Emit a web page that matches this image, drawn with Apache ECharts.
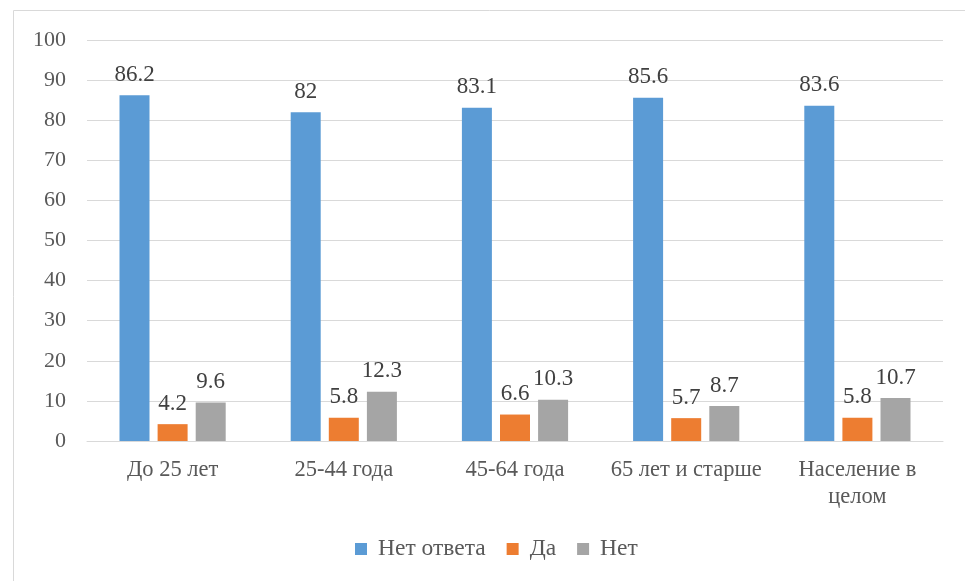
<!DOCTYPE html>
<html><head><meta charset="utf-8">
<script src="https://cdn.jsdelivr.net/npm/echarts@6/dist/echarts.min.js"></script>
<style>html,body{margin:0;padding:0;background:#fff}#c{width:965px;height:581px}</style>
</head><body><div id="c"></div>
<script>
const categories = ['До 25 лет', '25-44 года', '45-64 года', '65 лет и старше', 'Население в\nцелом'];
const seriesNames = ['Нет ответа', 'Да', 'Нет'];
const noAnswer = [86.2, 82, 83.1, 85.6, 83.6];
const yes = [4.2, 5.8, 6.6, 5.7, 5.8];
const no = [9.6, 12.3, 10.3, 8.7, 10.7];
const yTicks = [0, 10, 20, 30, 40, 50, 60, 70, 80, 90, 100];

const colors = ['#5b9bd5', '#ed7d31', '#a5a5a5'];
const font = 'Liberation Serif';
const chart = echarts.init(document.getElementById('c'));
const mk = (name, data, i) => ({
  name, type: 'bar', data, barWidth: 30, barGap: '27%',
  itemStyle: { color: colors[i] },
  label: { show: true, position: 'top', distance: 9, color: '#404040', fontFamily: font, fontSize: 23 }
});
chart.setOption({
  animation: false,
  textStyle: { fontFamily: font },
  graphic: [{ type: 'rect', shape: { x: 13.5, y: 10.5, width: 1000, height: 600 }, style: { fill: 'none', stroke: '#d9d9d9', lineWidth: 1 }, z: -1 }],
  grid: { left: 87, right: 22, top: 40, bottom: 140, containLabel: false },
  xAxis: {
    type: 'category', data: categories,
    axisLine: { lineStyle: { color: '#d9d9d9', width: 1 } },
    axisTick: { show: false },
    axisLabel: { color: '#595959', fontFamily: font, fontSize: 22.5, margin: 16, interval: 0, lineHeight: 27, verticalAlign: 'top' }
  },
  yAxis: {
    type: 'value', min: yTicks[0], max: yTicks[yTicks.length - 1], interval: 10,
    axisLine: { show: false }, axisTick: { show: false },
    splitLine: { lineStyle: { color: '#d9d9d9', width: 1 } },
    axisLabel: { color: '#595959', fontFamily: font, fontSize: 22, margin: 21 }
  },
  legend: {
    bottom: 15, left: 350, itemWidth: 12, itemHeight: 12, itemGap: 21, icon: 'rect',
    textStyle: { color: '#595959', fontFamily: font, fontSize: 23.5, padding: [0, 0, 0, 6] },
    data: seriesNames
  },
  series: [mk(seriesNames[0], noAnswer, 0), mk(seriesNames[1], yes, 1), mk(seriesNames[2], no, 2)]
});
</script></body></html>
